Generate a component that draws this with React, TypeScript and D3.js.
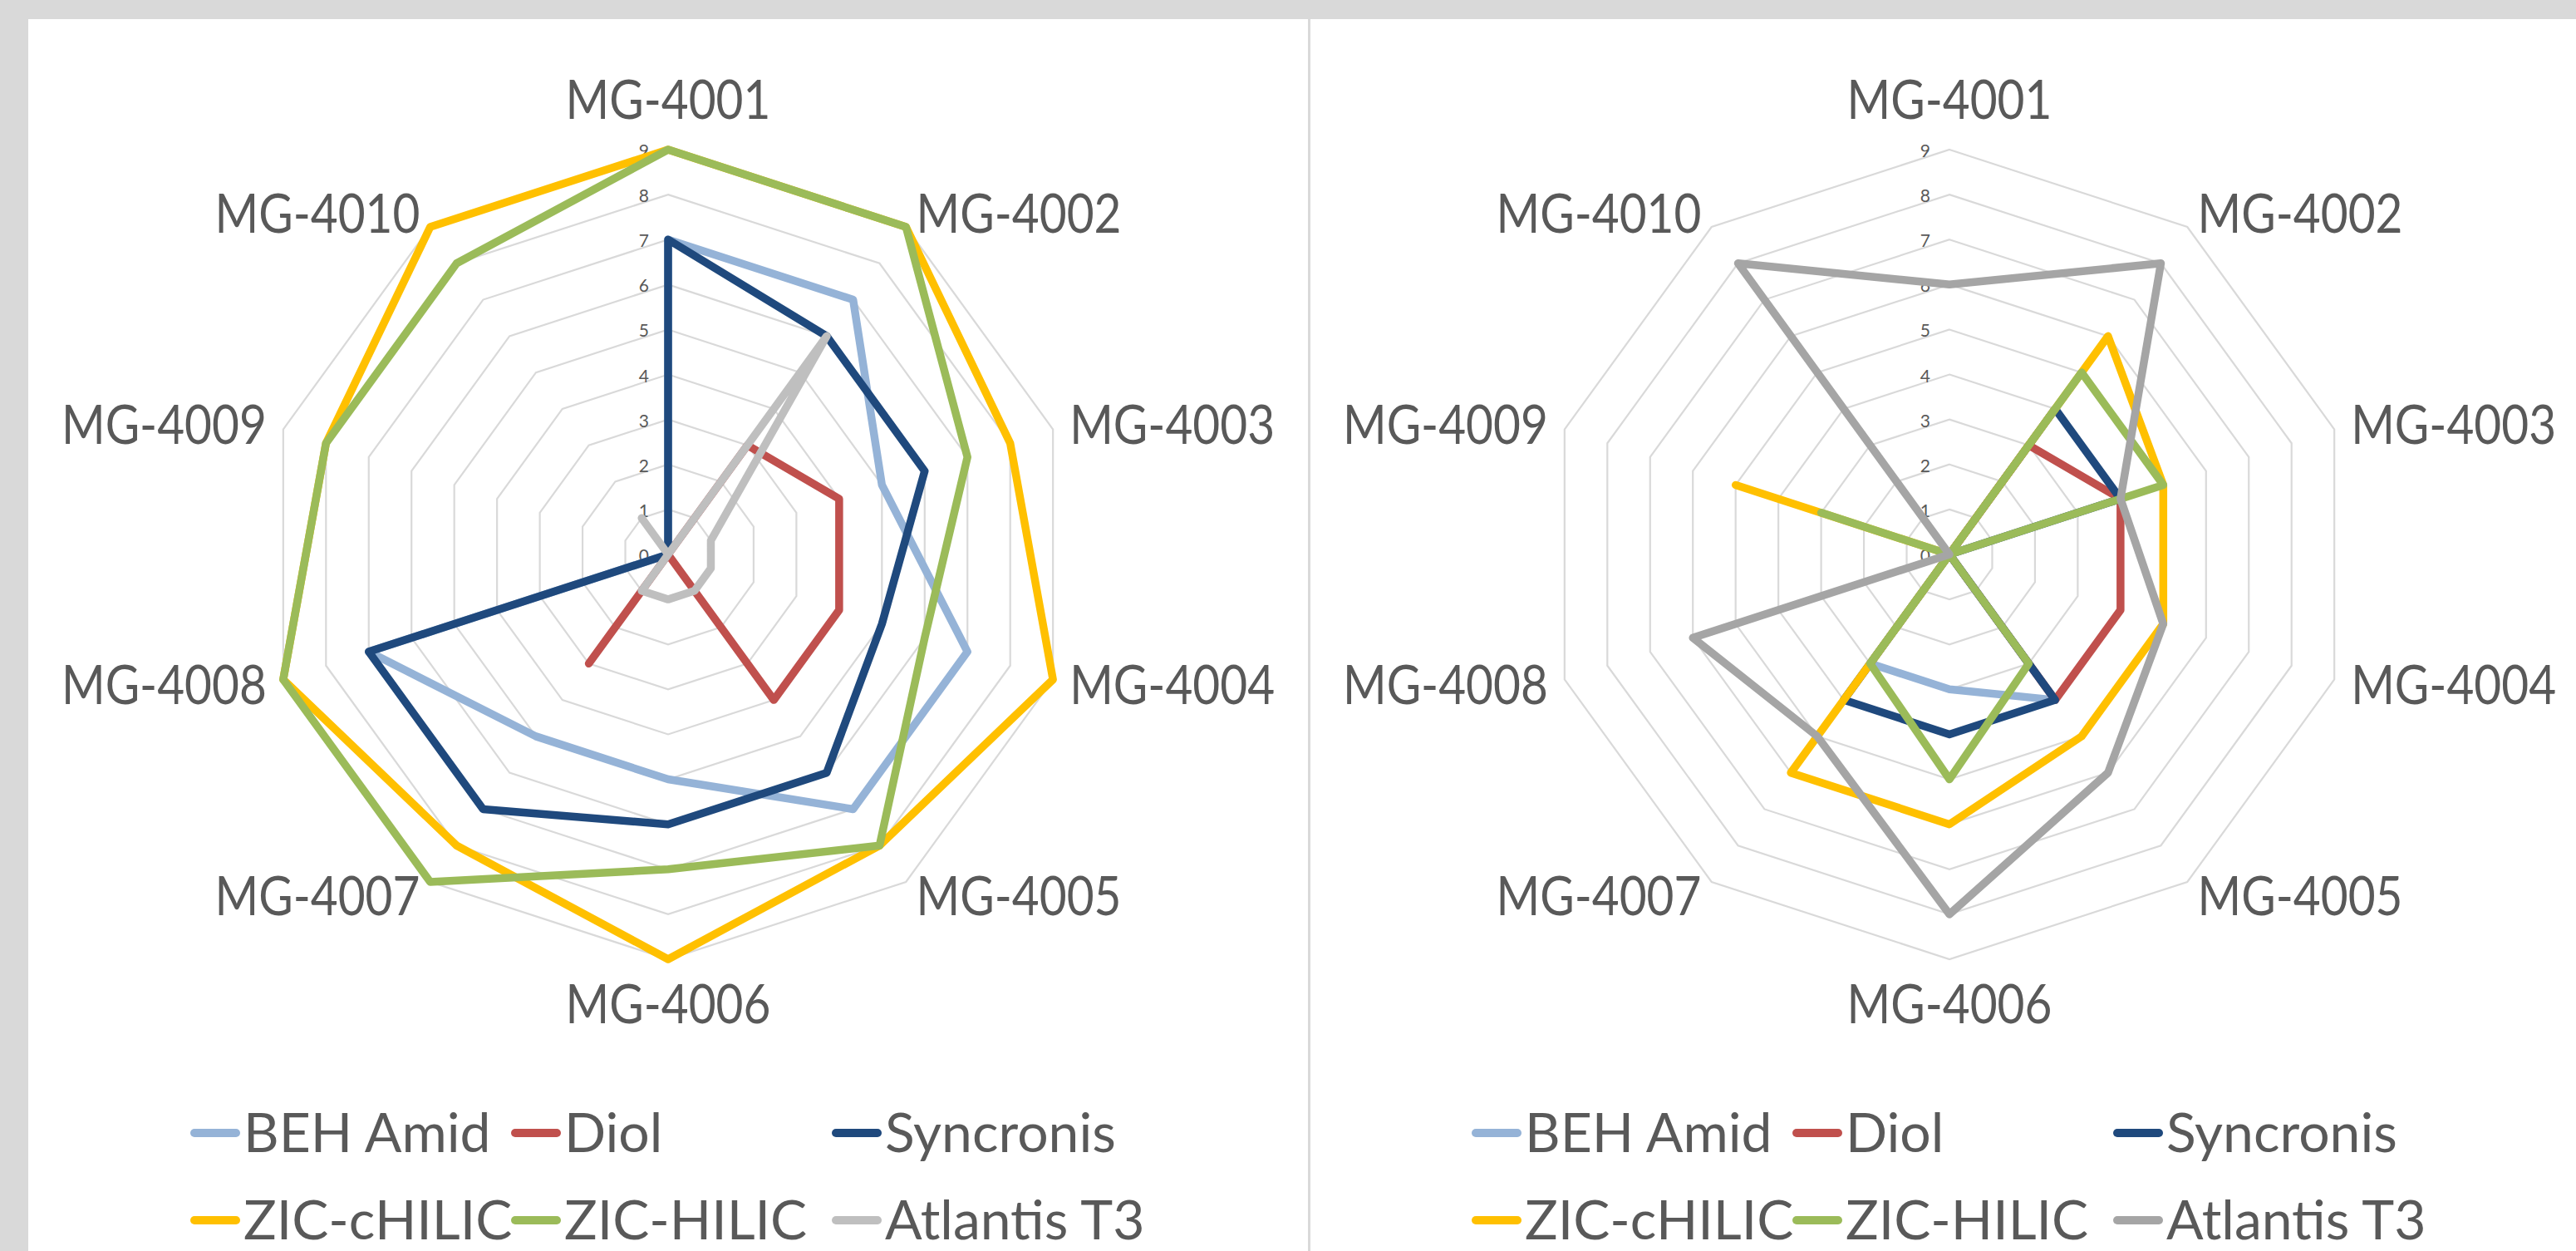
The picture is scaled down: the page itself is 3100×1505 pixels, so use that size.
import React from 'react';
import * as d3 from 'd3';

const categories = ['MG-4001', 'MG-4002', 'MG-4003', 'MG-4004', 'MG-4005', 'MG-4006', 'MG-4007', 'MG-4008', 'MG-4009', 'MG-4010'];
const seriesNames = ['BEH Amid', 'Diol', 'Syncronis', 'ZIC-cHILIC', 'ZIC-HILIC', 'Atlantis T3'];
const tickValues = [0, 1, 2, 3, 4, 5, 6, 7, 8, 9];

// Left chart
const leftBehAmid = [7, 7, 5, 7, 7, 5, 5, 7, 0, 0];
const leftDiol = [0, 3, 4, 4, 4, 0, 3, 0, 0, 0];
const leftSyncronis = [7, 6, 6, 5, 6, 6, 7, 7, 0, 0];
const leftZicCHilic = [9, 9, 8, 9, 8, 9, 8, 9, 8, 9];
const leftZicHilic = [9, 9, 7, 6, 8, 7, 9, 9, 8, 8];
const leftAtlantisT3 = [0, 6, 1, 1, 1, 1, 1, 0, 0, 1];

// Right chart
const rightBehAmid = [0, 0, 0, 0, 4, 3, 3, 0, 0, 0];
const rightDiol = [0, 3, 4, 4, 4, 0, 0, 0, 0, 0];
const rightSyncronis = [0, 4, 4, 0, 4, 4, 4, 0, 0, 0];
const rightZicCHilic = [0, 6, 5, 5, 5, 6, 6, 0, 5, 0];
const rightZicHilic = [0, 5, 5, 0, 3, 5, 3, 0, 3, 0];
const rightAtlantisT3 = [6, 8, 4, 5, 6, 8, 5, 6, 0, 8];

const leftColors = ['#95b3d7', '#c0504d', '#1f497d', '#ffc000', '#9bbb59', '#bfbfbf'];
const rightColors = ['#95b3d7', '#c0504d', '#1f497d', '#ffc000', '#9bbb59', '#a5a5a5'];

const W = 3100;
const H = 1505;
const R9 = 487;
const FONT = 'Lato, "Open Sans", sans-serif';
const TEXT = '#595959';

type RadarProps = { cx: number; cy: number; data: number[][]; colors: string[] };

function Radar({ cx, cy, data, colors }: RadarProps) {
  const r = d3.scaleLinear().domain([0, 9]).range([0, R9]);
  const n = categories.length;
  const angle = d3.scaleLinear().domain([0, n]).range([0, 2 * Math.PI]);
  const line = d3
    .lineRadial<number>()
    .angle((_d, i) => angle(i))
    .radius((d) => r(d))
    .curve(d3.curveLinearClosed);
  const ringLine = (v: number) => line(categories.map(() => v)) as string;

  const labelR = R9 + 21;
  const capHalf = 23.5;

  return (
    <g transform={`translate(${cx},${cy})`}>
      {tickValues.slice(1).map((v) => (
        <path key={'ring' + v} d={ringLine(v)} fill="none" stroke="#d9d9d9" strokeWidth={2.2} />
      ))}
      {tickValues.map((v) => (
        <text
          key={'tick' + v}
          x={-23}
          y={-r(v) + 9}
          textAnchor="end"
          fontFamily={FONT}
          fontSize={21}
          fill={TEXT}
        >
          {v}
        </text>
      ))}
      {data.map((vals, si) => (
        <path
          key={'s' + si}
          d={line(vals) as string}
          fill="none"
          stroke={colors[si]}
          strokeWidth={9.5}
          strokeLinejoin="round"
          strokeLinecap="round"
        />
      ))}
      {categories.map((c, i) => {
        const a = angle(i);
        const dx = Math.sin(a);
        const dy = -Math.cos(a);
        const px = labelR * dx;
        const py = labelR * dy;
        let anchor = 'middle';
        if (dx > 0.1) anchor = 'start';
        else if (dx < -0.1) anchor = 'end';
        let y = py + capHalf;
        if (Math.abs(dx) < 0.1) {
          y = dy < 0 ? py - 16 : py + 56;
        }
        return (
          <text
            key={c}
            transform={`translate(${px},${y}) scale(0.86,1)`}
            textAnchor={anchor}
            fontFamily={FONT}
            fontSize={66}
            fill={TEXT}
          >
            {c}
          </text>
        );
      })}
    </g>
  );
}

function Legend({ cx, colors }: { cx: number; colors: string[] }) {
  const colX = d3.scaleLinear().domain([0, 1]).range([cx - 575, cx - 575 + 386]);
  const rowY = d3.scaleLinear().domain([0, 1]).range([1363, 1468]);
  return (
    <g>
      {seriesNames.map((name, i) => {
        const col = i % 3;
        const row = Math.floor(i / 3);
        const x = colX(col);
        const y = rowY(row);
        return (
          <g key={name}>
            <line x1={x + 5} x2={x + 55} y1={y} y2={y} stroke={colors[i]} strokeWidth={10} strokeLinecap="round" />
            <text x={x + 64} y={y + 23} fontFamily={FONT} fontSize={66} fill={TEXT}>
              {name}
            </text>
          </g>
        );
      })}
    </g>
  );
}

export default function App() {
  const leftData = [leftBehAmid, leftDiol, leftSyncronis, leftZicCHilic, leftZicHilic, leftAtlantisT3];
  const rightData = [rightBehAmid, rightDiol, rightSyncronis, rightZicCHilic, rightZicHilic, rightAtlantisT3];
  const leftCx = 804;
  const rightCx = 2346;
  const cy = 667;
  return (
    <svg
      width={W}
      height={H}
      style={{ position: 'absolute', left: 0, top: 0, display: 'block' }}
      xmlns="http://www.w3.org/2000/svg"
    >
      <rect x={0} y={0} width={W} height={H} fill="#d9d9d9" />
      <rect x={34} y={23} width={W - 34} height={H - 23} fill="#ffffff" />
      <rect x={1574} y={23} width={3} height={H - 23} fill="#d9d9d9" />
      <Radar cx={leftCx} cy={cy} data={leftData} colors={leftColors} />
      <Radar cx={rightCx} cy={cy} data={rightData} colors={rightColors} />
      <Legend cx={leftCx} colors={leftColors} />
      <Legend cx={rightCx} colors={rightColors} />
    </svg>
  );
}
